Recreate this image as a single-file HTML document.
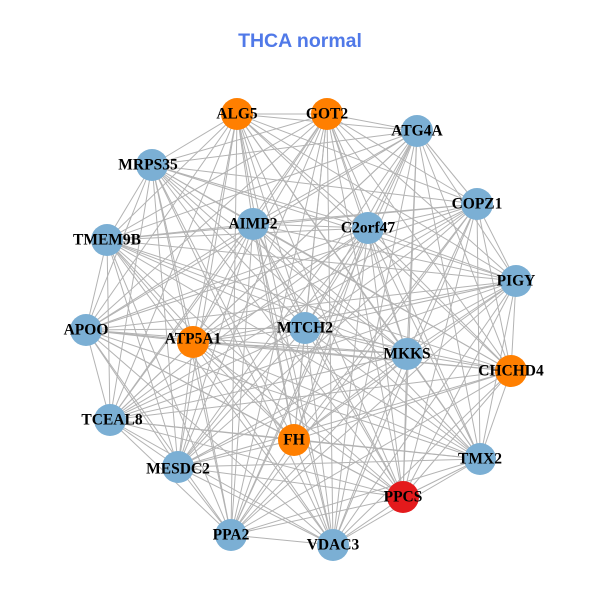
<!DOCTYPE html>
<html><head><meta charset="utf-8"><style>
html,body{margin:0;padding:0;background:#fff;}
svg{display:block;}
.t{font-family:"Liberation Serif",serif;font-weight:bold;font-size:15.5px;fill:#000;text-anchor:middle;dominant-baseline:central;}
</style></head><body>
<svg id="s" width="600" height="600" viewBox="0 0 600 600">
<text x="300" y="47" text-anchor="middle" font-family="Liberation Sans, sans-serif" font-weight="bold" font-size="19.5" fill="#5079E8">THCA normal</text>
<g id="edges" stroke="#b3b3b3" stroke-width="1" fill="none"></g>
<g id="nodes">
<circle cx="237" cy="114" r="16" fill="#FF7F00"/><text class="t" x="237" y="114">ALG5</text>
<circle cx="327" cy="114" r="16" fill="#FF7F00"/><text class="t" x="327" y="114">GOT2</text>
<circle cx="417" cy="131" r="16" fill="#7BAFD4"/><text class="t" x="417" y="131">ATG4A</text>
<circle cx="152" cy="165" r="16" fill="#7BAFD4"/><text class="t" x="148" y="165">MRPS35</text>
<circle cx="477" cy="204" r="16" fill="#7BAFD4"/><text class="t" x="477" y="204">COPZ1</text>
<circle cx="253" cy="224" r="16" fill="#7BAFD4"/><text class="t" x="253" y="224">AIMP2</text>
<circle cx="368" cy="228" r="16" fill="#7BAFD4"/><text class="t" x="368" y="228">C2orf47</text>
<circle cx="107" cy="240" r="16" fill="#7BAFD4"/><text class="t" x="107" y="240">TMEM9B</text>
<circle cx="516" cy="281" r="16" fill="#7BAFD4"/><text class="t" x="516" y="281">PIGY</text>
<circle cx="86" cy="330" r="16" fill="#7BAFD4"/><text class="t" x="86" y="330">APOO</text>
<circle cx="193" cy="342" r="16" fill="#FF7F00"/><text class="t" x="193" y="339">ATP5A1</text>
<circle cx="305" cy="328" r="16" fill="#7BAFD4"/><text class="t" x="305" y="328">MTCH2</text>
<circle cx="407" cy="354" r="16" fill="#7BAFD4"/><text class="t" x="407" y="354">MKKS</text>
<circle cx="511" cy="371" r="16" fill="#FF7F00"/><text class="t" x="511" y="371">CHCHD4</text>
<circle cx="110" cy="420" r="16" fill="#7BAFD4"/><text class="t" x="112" y="420">TCEAL8</text>
<circle cx="294" cy="440" r="16" fill="#FF7F00"/><text class="t" x="294" y="440">FH</text>
<circle cx="178" cy="467" r="16" fill="#7BAFD4"/><text class="t" x="178" y="469">MESDC2</text>
<circle cx="480" cy="459" r="16" fill="#7BAFD4"/><text class="t" x="480" y="459">TMX2</text>
<circle cx="403" cy="497" r="16" fill="#E41A1C"/><text class="t" x="403" y="497">PPCS</text>
<circle cx="231" cy="535" r="16" fill="#7BAFD4"/><text class="t" x="231" y="535">PPA2</text>
<circle cx="333" cy="545" r="16" fill="#7BAFD4"/><text class="t" x="333" y="545">VDAC3</text>
</g>
</svg>
<script>
var cs=document.querySelectorAll('#nodes circle'),g=document.getElementById('edges'),p=[];
cs.forEach(function(c){p.push([+c.getAttribute('cx'),+c.getAttribute('cy')]);});
for(var i=0;i<p.length;i++)for(var j=i+1;j<p.length;j++){
var l=document.createElementNS('http://www.w3.org/2000/svg','line');
l.setAttribute('x1',p[i][0]);l.setAttribute('y1',p[i][1]);l.setAttribute('x2',p[j][0]);l.setAttribute('y2',p[j][1]);g.appendChild(l);}
</script>
</body></html>
